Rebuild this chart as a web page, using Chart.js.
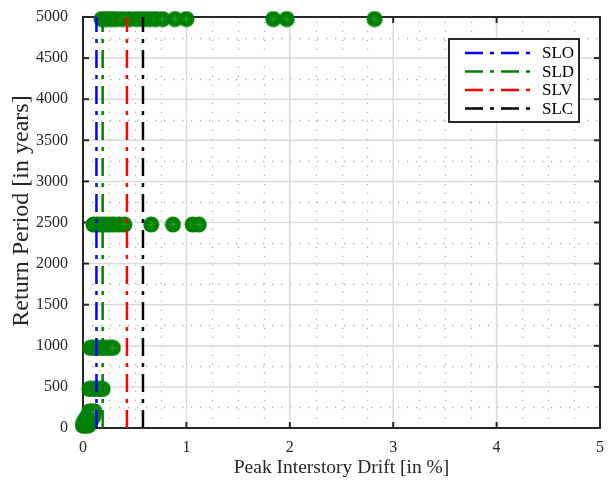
<!DOCTYPE html>
<html>
<head>
<meta charset="utf-8">
<script src="https://cdn.jsdelivr.net/npm/chart.js@4.4.1/dist/chart.umd.min.js"></script>
<style>
  html, body { margin: 0; padding: 0; background: #ffffff; }
  #wrap { width: 609px; height: 483px; }
</style>
</head>
<body>
<div id="wrap"><canvas id="c" width="609" height="483"></canvas></div>
<script>
// Peak interstory drift [%] recorded for each return period [years]
const returnPeriods = [30, 50, 72, 101, 140, 201, 475, 975, 2475, 4975];
const drift_30   = [0.00, 0.01, 0.02, 0.04, 0.05];
const drift_50   = [0.00, 0.02, 0.03, 0.05, 0.06];
const drift_72   = [0.01, 0.03, 0.04, 0.06];
const drift_101  = [0.02, 0.04, 0.06, 0.08];
const drift_140  = [0.04, 0.06, 0.08, 0.10];
const drift_201  = [0.06, 0.08, 0.10, 0.11];
const drift_475  = [0.06, 0.09, 0.13, 0.17, 0.19];
const drift_975  = [0.07, 0.10, 0.14, 0.18, 0.22, 0.26, 0.29];
const drift_2475 = [0.10, 0.14, 0.18, 0.22, 0.26, 0.30, 0.35, 0.40, 0.66, 0.87, 1.06, 1.12];
const drift_4975 = [0.18, 0.22, 0.27, 0.32, 0.38, 0.45, 0.52, 0.58, 0.64, 0.70, 0.77, 0.89, 1.00, 1.84, 1.97, 2.82];
const driftByPeriod = [drift_30, drift_50, drift_72, drift_101, drift_140, drift_201,
                       drift_475, drift_975, drift_2475, drift_4975];

// Limit-state drift thresholds [%]
const limitStates = ['SLO', 'SLD', 'SLV', 'SLC'];
const limitDrift  = [0.13, 0.19, 0.425, 0.58];
const limitColors = ['#0000ff', '#008000', '#ff0000', '#000000'];

// Axis ranges and ticks
const xMin = 0, xMax = 5, xStep = 1, xMinorStep = 0.25;
const yMin = 0, yMax = 5000, yStep = 500, yMinorStep = 250;

const X_TITLE = 'Peak Interstory Drift [in %]';
const Y_TITLE = 'Return Period [in years]';

const AXIS_COLOR = '#262626';
const FONT = "'Liberation Serif', 'Times New Roman', serif";
const DASH = [18, 7, 4, 7];

// marker: filled green disc with a faint asterisk on it
function makeMarker() {
  const r = 8, s = 17;
  const cv = document.createElement('canvas');
  cv.width = s; cv.height = s;
  const g = cv.getContext('2d');
  g.fillStyle = '#008000';
  g.beginPath(); g.arc(s / 2, s / 2, r, 0, Math.PI * 2); g.fill();
  g.strokeStyle = 'rgba(150,200,150,0.35)';
  g.lineWidth = 0.6;
  for (let k = 0; k < 4; k++) {
    const a = k * Math.PI / 4 + Math.PI / 2;
    g.beginPath();
    g.moveTo(s / 2 - 4.5 * Math.cos(a), s / 2 - 4.5 * Math.sin(a));
    g.lineTo(s / 2 + 4.5 * Math.cos(a), s / 2 + 4.5 * Math.sin(a));
    g.stroke();
  }
  return cv;
}
const marker = makeMarker();

const scatterPoints = [];
returnPeriods.forEach((rp, i) => {
  driftByPeriod[i].forEach(d => scatterPoints.push({ x: d, y: rp }));
});

const limitDatasets = limitStates.map((name, i) => ({
  type: 'line',
  label: name,
  data: [{ x: limitDrift[i], y: yMin }, { x: limitDrift[i], y: yMax }],
  borderColor: limitColors[i],
  borderWidth: 2.5,
  borderDash: DASH,
  pointRadius: 0,
  fill: false,
  tension: 0
}));

const frame = {
  id: 'frame',
  beforeDraw(chart) {
    const c = chart.ctx;
    c.save();
    c.fillStyle = '#ffffff';
    c.fillRect(0, 0, chart.width, chart.height);
    c.restore();
  },
  beforeDatasetsDraw(chart) {
    const c = chart.ctx, a = chart.chartArea;
    const xs = chart.scales.x, ys = chart.scales.y;
    c.save();
    // minor dotted grid
    c.strokeStyle = '#b0b0b0';
    c.lineWidth = 1.3;
    c.setLineDash([1.3, 7.7]);
    for (let v = xMin + xMinorStep; v < xMax; v += xMinorStep) {
      if (Math.abs(v / xStep - Math.round(v / xStep)) < 1e-6) continue;
      const px = Math.round(xs.getPixelForValue(v)) + 0.5;
      c.beginPath(); c.moveTo(px, a.bottom); c.lineTo(px, a.top); c.stroke();
    }
    for (let v = yMin + yMinorStep; v < yMax; v += yMinorStep) {
      if (Math.abs(v / yStep - Math.round(v / yStep)) < 1e-6) continue;
      const py = Math.round(ys.getPixelForValue(v)) + 0.5;
      c.beginPath(); c.moveTo(a.left, py); c.lineTo(a.right, py); c.stroke();
    }
    // major solid grid
    c.setLineDash([]);
    c.strokeStyle = '#dadada';
    c.lineWidth = 1.5;
    for (let v = xMin + xStep; v < xMax; v += xStep) {
      const px = xs.getPixelForValue(v);
      c.beginPath(); c.moveTo(px, a.bottom); c.lineTo(px, a.top); c.stroke();
    }
    for (let v = yMin + yStep; v < yMax; v += yStep) {
      const py = ys.getPixelForValue(v);
      c.beginPath(); c.moveTo(a.left, py); c.lineTo(a.right, py); c.stroke();
    }
    // axes box with inward ticks
    c.strokeStyle = AXIS_COLOR;
    c.lineWidth = 2;
    c.strokeRect(a.left, a.top, a.right - a.left, a.bottom - a.top);
    const tl = 6;
    for (let v = xMin + xStep; v < xMax; v += xStep) {
      const px = xs.getPixelForValue(v);
      c.beginPath(); c.moveTo(px, a.bottom); c.lineTo(px, a.bottom - tl); c.stroke();
      c.beginPath(); c.moveTo(px, a.top); c.lineTo(px, a.top + tl); c.stroke();
    }
    for (let v = yMin + yStep; v < yMax; v += yStep) {
      const py = ys.getPixelForValue(v);
      c.beginPath(); c.moveTo(a.left, py); c.lineTo(a.left + tl, py); c.stroke();
      c.beginPath(); c.moveTo(a.right, py); c.lineTo(a.right - tl, py); c.stroke();
    }
    c.restore();
  },
  afterDraw(chart) {
    const c = chart.ctx;
    c.save();
    // vertical axis title
    c.translate(22, 211);
    c.rotate(-Math.PI / 2);
    c.font = '24px ' + FONT;
    c.fillStyle = AXIS_COLOR;
    c.textAlign = 'center';
    c.textBaseline = 'middle';
    c.fillText(Y_TITLE, 0, 0);
    c.restore();

    // legend box
    const bx = 449, by = 39, bw = 130, bh = 83;
    c.save();
    c.fillStyle = '#ffffff';
    c.fillRect(bx, by, bw, bh);
    c.strokeStyle = AXIS_COLOR;
    c.lineWidth = 2;
    c.strokeRect(bx, by, bw, bh);
    c.font = '17px ' + FONT;
    c.textBaseline = 'middle';
    c.textAlign = 'left';
    limitStates.forEach((name, i) => {
      const yy = by + 14 + i * 18.5;
      c.strokeStyle = limitColors[i];
      c.lineWidth = 2.5;
      c.setLineDash(DASH);
      c.beginPath(); c.moveTo(465, yy); c.lineTo(534, yy); c.stroke();
      c.setLineDash([]);
      c.fillStyle = '#000000';
      c.fillText(name, 542, yy + 1);
    });
    c.restore();
  }
};

new Chart(document.getElementById('c'), {
  type: 'scatter',
  data: {
    datasets: [
      ...limitDatasets,
      {
        type: 'scatter',
        label: 'Peak drift',
        data: scatterPoints,
        pointStyle: marker,
        pointRadius: 8,
        pointHoverRadius: 8,
        clip: false
      }
    ]
  },
  options: {
    responsive: false,
    animation: false,
    devicePixelRatio: 1,
    layout: { padding: { top: 17, right: 5, left: 0, bottom: 0 } },
    plugins: { legend: { display: false }, tooltip: { enabled: false } },
    scales: {
      x: {
        type: 'linear',
        min: xMin, max: xMax,
        grid: { display: false },
        border: { display: false },
        ticks: { stepSize: xStep, padding: 2, color: AXIS_COLOR, font: { family: FONT, size: 16 },
                 callback: v => String(v) },
        title: { display: true, text: X_TITLE, color: AXIS_COLOR,
                 font: { family: FONT, size: 19.5 }, padding: { top: 0, bottom: 3 } },
        afterFit(s) { s.height = 55; }
      },
      y: {
        type: 'linear',
        min: yMin, max: yMax,
        grid: { display: false },
        border: { display: false },
        ticks: { stepSize: yStep, padding: 7, color: AXIS_COLOR, font: { family: FONT, size: 16 },
                 callback: v => String(v) },
        title: { display: false },
        afterFit(s) { s.width = 83; }
      }
    }
  },
  plugins: [frame]
});
</script>
</body>
</html>
